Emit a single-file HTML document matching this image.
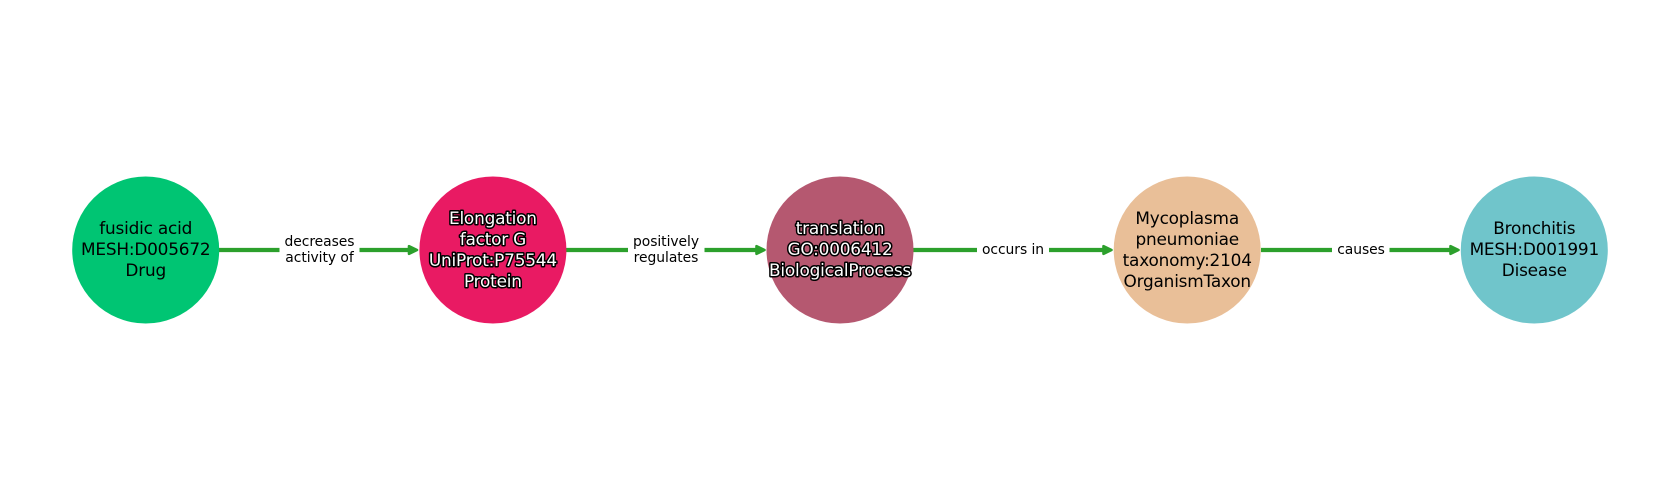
<!DOCTYPE html>
<html>
<head>
<meta charset="utf-8">
<style>
html,body{margin:0;padding:0;background:#fff;width:1680px;height:500px;overflow:hidden}
svg{display:block}
text{font-family:"DejaVu Sans",sans-serif;text-anchor:middle;fill:#000}
.n{font-size:16.9px;letter-spacing:-0.2px}
.h{font-size:16.9px;letter-spacing:-0.2px;fill:#fff;stroke:#000;stroke-width:3px;paint-order:stroke;stroke-linejoin:round}
.e{font-size:13.89px;letter-spacing:-0.05px}
</style>
</head>
<body>
<svg width="1680" height="500" viewBox="0 0 1680 500" xmlns="http://www.w3.org/2000/svg">
<rect width="1680" height="500" fill="#fff"/>
<g stroke="#2ca02c" stroke-width="4.2" fill="none">
<path d="M219 250H279.500M359.500 250H410"/>
<path d="M566 250H628M704.500 250H757"/>
<path d="M913 250H977M1049 250H1104"/>
<path d="M1261 250H1332M1389.500 250H1451"/>
</g>
<g fill="#2ca02c" stroke="#2ca02c" stroke-width="2.600" stroke-linejoin="round">
<path d="M409 246.200L417 250L409 253.800Z"/>
<path d="M756.500 246.200L764.500 250L756.500 253.800Z"/>
<path d="M1103.500 246.200L1111.500 250L1103.500 253.800Z"/>
<path d="M1450.500 246.200L1458.500 250L1450.500 253.800Z"/>
</g>
<circle cx="145.700" cy="250" r="73.500" fill="#00c573"/>
<circle cx="492.900" cy="250" r="73.500" fill="#e91a63"/>
<circle cx="840" cy="250" r="73.500" fill="#b55870"/>
<circle cx="1187.200" cy="250" r="73.500" fill="#e9bf98"/>
<circle cx="1534.300" cy="250" r="73.500" fill="#70c5cb"/>
<text class="n" x="145.700" y="234">fusidic acid</text>
<text class="n" x="145.700" y="255">MESH:D005672</text>
<text class="n" x="145.700" y="276">Drug</text>
<text class="h" x="492.900" y="224">Elongation</text>
<text class="h" x="492.900" y="245">factor G</text>
<text class="h" x="492.900" y="266">UniProt:P75544</text>
<text class="h" x="492.900" y="287">Protein</text>
<text class="h" x="840" y="234">translation</text>
<text class="h" x="840" y="255">GO:0006412</text>
<text class="h" x="840" y="276">BiologicalProcess</text>
<text class="n" x="1187.200" y="224">Mycoplasma</text>
<text class="n" x="1187.200" y="245">pneumoniae</text>
<text class="n" x="1187.200" y="266">taxonomy:2104</text>
<text class="n" x="1187.200" y="287">OrganismTaxon</text>
<text class="n" x="1534.300" y="234">Bronchitis</text>
<text class="n" x="1534.300" y="255">MESH:D001991</text>
<text class="n" x="1534.300" y="276">Disease</text>
<text class="e" x="319.500" y="246">decreases</text>
<text class="e" x="319.500" y="262">activity of</text>
<text class="e" x="666" y="246">positively</text>
<text class="e" x="666" y="262">regulates</text>
<text class="e" x="1013" y="254">occurs in</text>
<text class="e" x="1361" y="254">causes</text>
</svg>
</body>
</html>
